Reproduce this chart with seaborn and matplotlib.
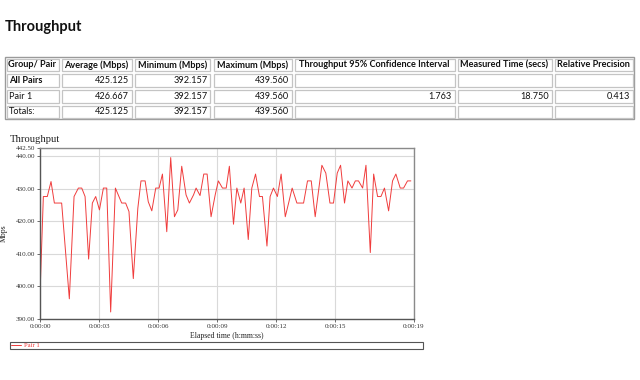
import matplotlib
matplotlib.use("Agg")
import matplotlib.pyplot as plt
import seaborn as sns
import pandas as pd
from matplotlib.patches import Rectangle
from matplotlib.ticker import FixedLocator, FuncFormatter

# ---------------- data ----------------
page_title = "Throughput"
chart_title = "Throughput"
table_header = ["Group/ Pair", "Average (Mbps)", "Minimum (Mbps)", "Maximum (Mbps)",
                "Throughput 95% Confidence Interval", "Measured Time (secs)", "Relative Precision"]
row_labels = ["All Pairs", "Pair 1", "Totals:"]
average = [425.125, 426.667, 425.125]
minimum = [392.157, 392.157, 392.157]
maximum = [439.560, 439.560, 439.560]
conf_interval = [None, 1.763, None]
measured_time = [None, 18.750, None]
rel_precision = [None, 0.413, None]

series_name = "Pair 1"
time_s = [0.00, 0.17, 0.37, 0.56, 0.73, 1.10, 1.49, 1.73, 1.95, 2.12, 2.29, 2.47, 2.66, 2.83,
          3.02, 3.22, 3.39, 3.59, 3.83, 4.15, 4.35, 4.52, 4.74, 4.97, 5.13, 5.34, 5.50, 5.68,
          5.88, 6.05, 6.22, 6.44, 6.64, 6.83, 7.00, 7.20, 7.42, 7.59, 7.80, 7.93, 8.13, 8.32,
          8.49, 8.69, 8.90, 9.06, 9.27, 9.46, 9.62, 9.83, 10.00, 10.20, 10.37, 10.58, 10.76,
          10.95, 11.15, 11.30, 11.53, 11.69, 11.86, 12.06, 12.25, 12.46, 12.63, 12.81, 13.05,
          13.39, 13.59, 13.78, 13.98, 14.32, 14.52, 14.73, 14.91, 15.10, 15.27, 15.47, 15.64,
          15.85, 16.02, 16.18, 16.39, 16.56, 16.78, 16.95, 17.15, 17.32, 17.50, 17.71, 17.91,
          18.08, 18.30, 18.47, 18.67, 18.84]
mbps = [397.5, 427.6, 427.6, 432.2, 425.6, 425.6, 396.2, 427.6, 430.2, 430.2, 427.6, 408.4,
        425.6, 427.6, 423.5, 430.2, 430.2, 392.157, 430.2, 425.6, 425.6, 423.0, 402.4, 424.0,
        432.4, 432.4, 426.0, 423.2, 430.2, 430.2, 434.5, 416.8, 439.56, 421.4, 423.5, 436.9,
        428.1, 425.6, 428.1, 430.2, 427.9, 434.5, 434.5, 421.4, 428.1, 432.4, 430.2, 430.2,
        436.9, 419.1, 430.2, 425.6, 430.2, 414.4, 430.2, 434.5, 427.6, 427.6, 412.4, 427.6,
        430.2, 427.6, 434.5, 421.4, 425.6, 430.2, 425.6, 425.6, 432.4, 432.4, 421.4, 437.2,
        434.8, 425.6, 425.6, 434.8, 437.2, 425.6, 432.4, 430.2, 432.4, 432.4, 430.2, 437.2,
        410.4, 434.5, 427.6, 427.6, 430.2, 423.2, 432.4, 434.5, 430.2, 430.2, 432.4, 432.4]
x_ticks = [0, 3, 6, 9, 12, 15, 19]
y_ticks = [390, 400, 410, 420, 430, 440, 442.5]

# ---------------- figure ----------------
sns.set_theme(style="white")
plt.rcParams["font.family"] = ["Lato", "DejaVu Sans"]
W, H = 640, 380
fig = plt.figure(figsize=(W / 100, H / 100), dpi=100)
fig.patch.set_facecolor("white")


def fx(px):
    return px / W


def fy(py):
    return 1 - py / H


# page heading
fig.text(fx(5), fy(27), page_title, fontsize=10.5, fontweight="bold", color="#111111",
         ha="left", va="center")

# ---------------- table ----------------
col_edges = [5, 60, 133, 212, 293, 456, 553, 634]
row_edges = [57, 72.7, 88.3, 104, 119.5]
fig.add_artist(Rectangle((fx(col_edges[0]), fy(row_edges[-1])),
                         fx(col_edges[-1] - col_edges[0]), (row_edges[-1] - row_edges[0]) / H,
                         transform=fig.transFigure, fill=False, edgecolor="#9a9a9a", lw=1.0))
for r in range(len(row_edges) - 1):
    for c in range(len(col_edges) - 1):
        x0, x1 = col_edges[c] + 1.5, col_edges[c + 1] - 1.5
        y0, y1 = row_edges[r] + 1.5, row_edges[r + 1] - 1.5
        fig.add_artist(Rectangle((fx(x0), fy(y1)), fx(x1 - x0), (y1 - y0) / H,
                                 transform=fig.transFigure, fill=False,
                                 edgecolor="#c4c4c4", lw=0.9))

tfs = 6.6
for c, name in enumerate(table_header):
    xc = (col_edges[c] + col_edges[c + 1]) / 2
    yc = (row_edges[0] + row_edges[1]) / 2
    fig.text(fx(xc), fy(yc), name, fontsize=tfs, fontweight="bold", ha="center",
             va="center", color="#111111")

columns = [average, minimum, maximum, conf_interval, measured_time, rel_precision]
for r, lab in enumerate(row_labels):
    yc = (row_edges[r + 1] + row_edges[r + 2]) / 2
    fig.text(fx(col_edges[0] + 4), fy(yc), lab, fontsize=tfs,
             fontweight="bold" if r == 0 else "normal", ha="left", va="center",
             color="#111111")
    for c, col in enumerate(columns):
        v = col[r]
        if v is None:
            continue
        fig.text(fx(col_edges[c + 2] - 4), fy(yc), f"{v:.3f}", fontsize=tfs,
                 ha="right", va="center", color="#111111")

# ---------------- chart ----------------
serif = ["Liberation Serif", "DejaVu Serif"]
fig.text(fx(10), fy(139), chart_title, fontsize=7.6, family=serif, color="#222222",
         ha="left", va="center")

ax = fig.add_axes([fx(40), fy(319), fx(414 - 40), (319 - 148) / H])
df = pd.DataFrame({"t": time_s, "Mbps": mbps})
sns.lineplot(data=df, x="t", y="Mbps", ax=ax, color="#f03c3c", linewidth=0.7,
             label=series_name, legend=False)
ax.set_xlim(0, 19)
ax.set_ylim(390, 442.5)
ax.xaxis.set_major_locator(FixedLocator(x_ticks))
ax.yaxis.set_major_locator(FixedLocator(y_ticks))
ax.xaxis.set_major_formatter(FuncFormatter(
    lambda v, p: f"{int(v) // 3600}:{(int(v) % 3600) // 60:02d}:{int(v) % 60:02d}"))
ax.yaxis.set_major_formatter(FuncFormatter(lambda v, p: f"{v:.2f}"))
ax.grid(True, color="#d9d9d9", linewidth=0.8)
ax.set_axisbelow(True)
for s in ["top", "right"]:
    ax.spines[s].set_color("#8a8a8a")
    ax.spines[s].set_linewidth(1.0)
for s in ["left", "bottom"]:
    ax.spines[s].set_color("#555555")
    ax.spines[s].set_linewidth(1.0)
ax.tick_params(axis="both", length=2, width=0.6, color="#555555", labelsize=5,
               labelcolor="#333333", pad=1.5)
ax.tick_params(axis="x", direction="out", bottom=True)
ax.tick_params(axis="y", direction="out", left=True)
for lbl in ax.get_xticklabels() + ax.get_yticklabels():
    lbl.set_family(serif)
ax.set_xlabel("Elapsed time (h:mm:ss)", fontsize=5.6, family=serif, color="#222222",
              labelpad=2.5)
ax.set_ylabel("Mbps", fontsize=5.6, family=serif, color="#222222", labelpad=6)

leg = ax.legend(loc="upper left", bbox_to_anchor=(fx(10), fy(350), fx(413), 8.5 / H),
                bbox_transform=fig.transFigure, mode="expand", ncol=1, frameon=True,
                fancybox=False, edgecolor="#555555", framealpha=1.0, fontsize=4.8,
                handlelength=1.5, handletextpad=0.5, borderpad=0.12, borderaxespad=0)
leg.get_frame().set_linewidth(0.8)
for txt in leg.get_texts():
    txt.set_color("#f03c3c")
    txt.set_family(serif)

fig.savefig("out.png", dpi=100, facecolor="white")
